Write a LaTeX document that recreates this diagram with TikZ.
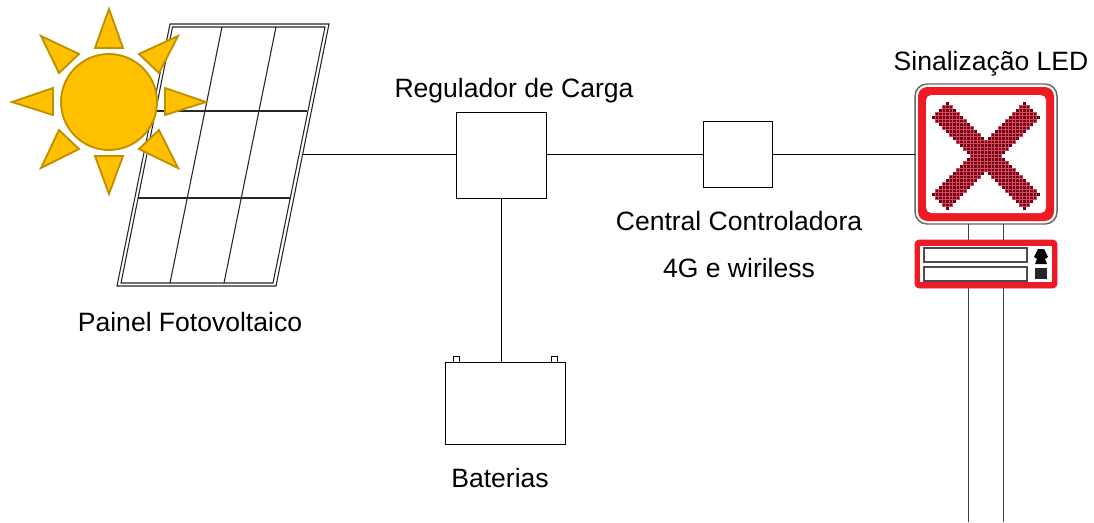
\documentclass[tikz,border=0pt]{standalone}
\usepackage{fontspec}
\setmainfont{Liberation Sans}
\definecolor{sunfill}{HTML}{FFC000}
\definecolor{sunline}{HTML}{BF9000}
\definecolor{signred}{HTML}{ED1C24}
\definecolor{ledred}{HTML}{6E0012}
\definecolor{ledback}{HTML}{D8485E}
\tikzset{
  wire/.style={draw=black,line width=0.75pt},
  panelline/.style={draw=black!85,line width=0.8pt},
  sunpart/.style={fill=sunfill,draw=sunline,line width=1.4pt,line join=miter},
  lbl/.style={anchor=base,inner sep=0pt,font=\fontsize{19.9pt}{24pt}\selectfont},
  box/.style={draw=black,fill=white,line width=0.75pt,inner sep=0pt,outer sep=0pt,rectangle},
  led/.style={fill=ledred,draw=none},
  ledbg/.style={fill=ledback,draw=none},
}
\begin{document}
\begin{tikzpicture}[x=0.75pt,y=-0.75pt]
\useasboundingbox (0,0) rectangle (1094,522);
% panel
\draw[panelline,fill=white] (170,24)--(329,24)--(276,286)--(117,286)--cycle;
\draw[panelline] (172.5,27)--(325,27)--(273,283)--(121,283)--cycle;
\draw[panelline] (222,27)--(170,283) (276,27)--(224,283);
\draw[panelline] (150,111)--(307,111) (138,198)--(290,198);
\coordinate (panelout) at (302,154);
% sun
\foreach \p in {
 {(109,9)--(123,48)--(95,48)},
 {(12,102)--(53,88)--(53,115)},
 {(206,102)--(165,88)--(165,115)},
 {(109,194)--(95,156)--(123,156)},
 {(41,36)--(79,54)--(59,73)},
 {(178,36)--(139,54)--(159,73)},
 {(41,168)--(79,149)--(59,130)},
 {(178,168)--(139,149)--(159,130)}}{
  \draw[sunpart] \p --cycle;
}
\node[sunpart,circle,minimum size=72pt,inner sep=0pt] (sun) at (109,102) {};
% boxes
\node[box,minimum width=67.5pt,minimum height=64.5pt] (reg) at (501,155) {};
\node[box,minimum width=51.75pt,minimum height=49.5pt] (cen) at (737.5,154) {};
\node[box,minimum width=90pt,minimum height=61.5pt] (bat) at (505,403) {};
\node[box,minimum width=4.5pt,minimum height=4.5pt] (t1) at (456,359) {};
\node[box,minimum width=4.5pt,minimum height=4.5pt] (t2) at (554.5,359) {};
% sign
\node[rectangle,rounded corners=9pt,draw=black!60,fill=white,line width=1.1pt,minimum width=106.5pt,minimum height=105pt,inner sep=0pt,outer sep=0pt] (sign) at (986,154) {};
\draw[wire,draw=black!75] (968,224)--(968,240) (1003,224)--(1003,240);
\draw[wire,draw=black!75] (968,288)--(968,522) (1003,288)--(1003,522);
\fill[signred,rounded corners=7pt] (918,87) rectangle (1054,221);
\fill[white,rounded corners=4pt] (926,95) rectangle (1046,213);
% LED cross
\foreach \i in {-15,...,15}{
  \foreach \j in {-15,...,15}{
    \pgfmathtruncatemacro{\on}{(abs(\i-\j)<=4 || abs(\i+\j)<=4) && (abs(\i+\j)<=26) && (abs(\i-\j)<=26)}
    \ifnum\on=1
      \fill[ledbg] ({986+3.5*\i-1.75},{156+3.5*\j-1.75}) rectangle ++(3.5,3.5);
      \fill[led] ({986+3.5*\i-1.3},{156+3.5*\j-1.3}) rectangle ++(2.6,2.6);
    \fi
  }
}
% display
\node[rectangle,rounded corners=3pt,fill=signred,draw=signred,line width=0.5pt,minimum width=106.5pt,minimum height=36pt,inner sep=0pt,outer sep=0pt] (disp) at (986,264) {};
\fill[white] (920,246) rectangle (1052,282);
\draw[draw=black!70,fill=white,line width=0.8pt] (924,248) rectangle (1027,262);
\draw[draw=black!70,fill=white,line width=0.8pt] (924,267) rectangle (1027,281);
\fill[black] (1038,249)--(1044,249)--(1046,253)--(1048,257)--(1045,259)--(1047,264)--(1035,264)--(1037,259)--(1034,257)--(1036,253)--cycle;
\fill[black!85] (1035,268) rectangle (1047,279);
% connectors
\draw[wire] (panelout)--(panelout-|reg.west);
\draw[wire] (panelout-|reg.east)--(panelout-|cen.west);
\draw[wire] (cen.east)--(cen.east-|sign.west);
\draw[wire] (reg.south)--(reg.south|-bat.north);
% labels
\node[lbl] (l1) at (190,331) {Painel Fotovoltaico};
\node[lbl] (l2) at (514,97) {Regulador de Carga};
\node[lbl] (l3) at (739,230) {Central Controladora};
\node[lbl] (l4) at (739,277) {4G e wiriless};
\node[lbl] (l5) at (500,487) {Baterias};
\node[lbl] (l6) at (991,70) {Sinalização LED};
\end{tikzpicture}
\end{document}
